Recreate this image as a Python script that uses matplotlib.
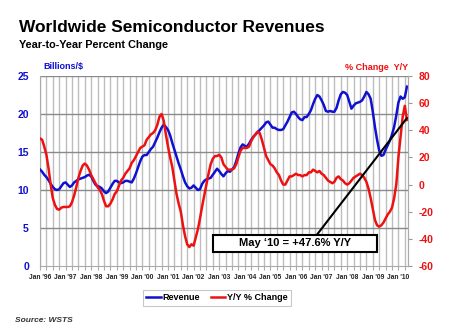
import matplotlib
matplotlib.use("Agg")
import matplotlib.pyplot as plt
from matplotlib.patches import Rectangle
from matplotlib.lines import Line2D

plt.rcParams['font.family'] = ['Liberation Sans', 'DejaVu Sans']

# Month index 0 = Jan '96 ... 172 = May '10
revenue = [
    12.7, 12.4, 12.0, 11.7, 11.3, 10.8, 10.4, 10.1, 10.0, 10.1, 10.5, 10.9,   # 1996
    11.0, 10.7, 10.4, 10.6, 11.0, 11.2, 11.4, 11.5, 11.6, 11.7, 11.9, 12.0,   # 1997
    11.8, 11.2, 10.7, 10.5, 10.4, 10.2, 9.8, 9.6, 9.8, 10.3, 10.8, 11.2,      # 1998
    11.2, 11.0, 10.9, 11.0, 11.2, 11.2, 11.1, 11.0, 11.5, 12.2, 13.0, 13.8,   # 1999
    14.4, 14.6, 14.6, 15.0, 15.4, 15.7, 16.3, 16.9, 17.6, 18.2, 18.6, 18.3,   # 2000
    17.9, 17.2, 16.2, 15.3, 14.4, 13.5, 12.7, 11.8, 11.0, 10.5, 10.2, 10.3,   # 2001
    10.6, 10.3, 10.0, 10.1, 10.8, 11.2, 11.4, 11.5, 11.6, 12.0, 12.4, 12.8,   # 2002
    12.5, 12.1, 11.8, 12.2, 12.5, 12.4, 12.7, 13.0, 13.8, 14.8, 15.6, 16.0,   # 2003
    15.8, 15.7, 16.1, 16.6, 17.0, 17.3, 17.6, 17.9, 18.2, 18.5, 18.9, 19.0,   # 2004
    18.6, 18.2, 18.2, 18.0, 17.9, 17.9, 18.0, 18.5, 19.0, 19.6, 20.2, 20.3,   # 2005
    20.0, 19.6, 19.3, 19.2, 19.6, 19.6, 20.0, 20.5, 21.3, 22.0, 22.5, 22.3,   # 2006
    21.8, 21.2, 20.4, 20.3, 20.4, 20.3, 20.3, 20.8, 21.8, 22.6, 22.9, 22.8,   # 2007
    22.5, 21.6, 20.7, 21.1, 21.4, 21.5, 21.6, 21.8, 22.3, 22.9, 22.6, 22.0,   # 2008
    20.3, 18.3, 16.6, 15.2, 14.5, 14.6, 15.3, 15.9, 16.5, 17.3, 18.3, 19.8,   # 2009
    21.5, 22.3, 22.0, 22.2, 23.6,                                              # 2010
]

yoy_change = [
    34, 33, 28, 22, 12, 0, -10, -15, -18, -18.5, -17, -16.5,                  # 1996
    -16.5, -16.5, -16, -13, -8, -2, 5, 10, 14, 15.5, 14, 11,                  # 1997
    7, 4, 1, -2, -4, -7, -12, -16, -16, -14, -11, -7,                         # 1998
    -5, -1, 3, 5, 8, 10, 12, 16, 18, 21, 24, 27,                              # 1999
    28, 29, 33, 35, 37, 38, 40, 44, 50, 52, 47, 37,                           # 2000
    28, 20, 13, 3, -7, -14, -20, -30, -38, -44, -46, -44,                     # 2001
    -45, -39, -33, -25, -16, -8, 0, 8, 15, 19, 21, 21,                        # 2002
    22, 20, 15, 13, 11, 11, 11, 12, 15, 20, 25, 27,                           # 2003
    27, 27, 28, 32, 35, 37, 39, 38, 33, 27, 21, 18,                           # 2004
    15, 14, 12, 9, 7, 3, 0, 0, 3, 6, 6, 7,                                    # 2005
    8, 7, 7, 6, 7, 7, 9, 9, 11, 10, 9, 10,                                    # 2006
    8, 7, 5, 3, 2, 1, 2, 5, 6, 4, 3, 1,                                       # 2007
    0, 1, 3, 5, 6, 7, 8, 7, 5, 2, -3, -10,                                    # 2008
    -18, -26, -30, -31, -30, -28, -25, -22, -20, -17, -10, 0,                 # 2009
    20, 35, 50, 58, 47.6,                                                      # 2010
]

year_labels = ["Jan '96", "Jan '97", "Jan '98", "Jan '99", "Jan '00", "Jan '01",
               "Jan '02", "Jan '03", "Jan '04", "Jan '05", "Jan '06", "Jan '07",
               "Jan '08", "Jan '09", "Jan '10"]
left_ticks = [0, 5, 10, 15, 20, 25]
right_ticks = [-60, -40, -20, 0, 20, 40, 60, 80]

BLUE = '#1010d0'
RED = '#ee1111'

W, H = 450, 331
fig = plt.figure(figsize=(W / 100, H / 100), dpi=100)
fig.patch.set_facecolor('white')

ax = fig.add_axes([40 / W, 65 / H, 368 / W, 190 / H])
ax2 = ax.twinx()

months = list(range(len(revenue)))
months2 = list(range(len(yoy_change)))

ax.set_xlim(0, 172.5)
ax.set_ylim(0, 25)
ax2.set_ylim(-60, 80)

# grid
for q in range(0, 173, 3):
    ax.axvline(q, color='#bdbdbd', lw=1.0, zorder=0)
for v in [5, 10, 15, 20, 25]:
    ax.axhline(v, color='#8a8a8a', lw=1.0, zorder=0.5)

ax.plot(months, revenue, color=BLUE, lw=1.8, zorder=3)
ax2.plot(months2, yoy_change, color=RED, lw=1.8, zorder=3)

ax.set_yticks(left_ticks)
ax.set_yticklabels([str(t) for t in left_ticks], color=BLUE, fontweight='bold', fontsize=7.5)
ax2.set_yticks(right_ticks)
ax2.set_yticklabels([str(t) for t in right_ticks], color=RED, fontweight='bold', fontsize=7.5)
ax.tick_params(axis='y', length=0, pad=8)
ax2.tick_params(axis='y', length=3, width=0.8, color='#999999', pad=5)

ax.set_xticks([12 * i for i in range(len(year_labels))])
ax.set_xticklabels(year_labels, fontsize=4.8, fontweight='bold', color='#222222')
ax.set_xticks(list(range(0, 173, 3)), minor=True)
ax.tick_params(axis='x', which='both', length=3, width=0.8, color='#aaaaaa', pad=3)

for a in (ax, ax2):
    for s in a.spines.values():
        s.set_color('#aaaaaa')
        s.set_linewidth(0.8)
    a.spines['top'].set_visible(False)
ax2.spines['left'].set_visible(False)
ax2.spines['bottom'].set_visible(False)

ax2.set_zorder(ax.get_zorder() + 1)
ax2.patch.set_visible(False)

# axis captions
fig.text(43 / W, 1 - 67 / H, 'Billions/$', color=BLUE, fontsize=6.5, fontweight='bold', va='center', ha='left')
fig.text(408 / W, 1 - 67 / H, '% Change  Y/Y', color=RED, fontsize=6.5, fontweight='bold', va='center', ha='right')

# title
fig.text(19 / W, 1 - 27 / H, 'Worldwide Semiconductor Revenues', fontsize=12.5, fontweight='bold', va='center', ha='left')
fig.text(19 / W, 1 - 45 / H, 'Year-to-Year Percent Change', fontsize=7.8, fontweight='bold', va='center', ha='left')

# annotation box with leader line
ax2.annotate('', xy=(172, 49), xycoords='data',
             xytext=(316.7 / W, 1 - 235 / H), textcoords='figure fraction',
             arrowprops=dict(arrowstyle='-', lw=1.5, color='black', shrinkA=0, shrinkB=0),
             zorder=5)
box = Rectangle((213 / W, 1 - 252 / H), 164 / W, 17 / H, transform=fig.transFigure,
                facecolor='white', edgecolor='black', lw=1.5, zorder=6)
fig.patches.append(box)
fig.text(295 / W, 1 - 243.5 / H, 'May \u201810 = +47.6% Y/Y', fontsize=8, fontweight='bold',
         ha='center', va='center', zorder=7)

# legend
handles = [Line2D([], [], color=BLUE, lw=1.8), Line2D([], [], color=RED, lw=1.8)]
leg = fig.legend(handles, ['Revenue', 'Y/Y % Change'], loc='center',
                 bbox_to_anchor=(217 / W, 1 - 298 / H), ncol=2, frameon=True,
                 fancybox=False, edgecolor='#bbbbbb', fontsize=6.5,
                 handlelength=1.6, handletextpad=0.2, columnspacing=1.2,
                 borderpad=0.35, prop={'weight': 'bold', 'size': 6.5})
leg.get_frame().set_linewidth(0.8)

fig.text(15 / W, 1 - 320 / H, 'Source: WSTS', fontsize=6, fontweight='bold', style='italic',
         color='#333333', va='center', ha='left')

fig.savefig('out.png', dpi=100, facecolor='white')
